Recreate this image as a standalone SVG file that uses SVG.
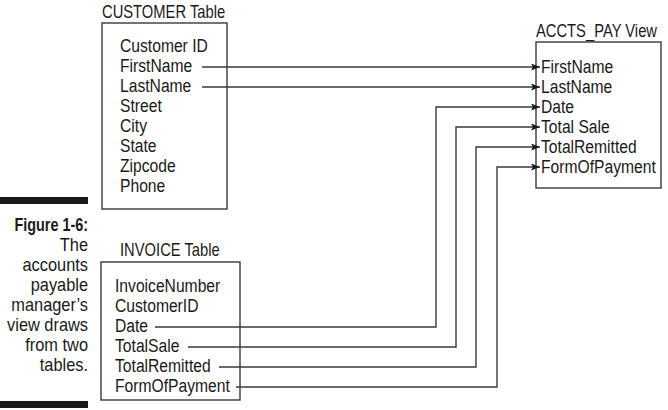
<svg xmlns="http://www.w3.org/2000/svg" width="668" height="410" viewBox="0 0 668 410">
<style>
text{font-family:"Liberation Sans",Arial,sans-serif;fill:#1a1a1a;font-size:18px}
.c{text-anchor:end}
.b{fill:none;stroke:#3a3a3a;stroke-width:1.4}
.l{fill:none;stroke:#3a3a3a;stroke-width:1.4}
</style>
<defs>
<marker id="ah" markerWidth="9" markerHeight="7" refX="9" refY="3.5" orient="auto" markerUnits="userSpaceOnUse">
<path d="M0,0 L9,3.5 L0,7 L2,3.5 Z" fill="#1a1a1a"/>
</marker>
</defs>
<rect width="668" height="410" fill="#fff"/>
<g id="caption">
<rect x="0" y="197" width="88" height="7" fill="#1a1a1a"/>
<g transform="translate(88,0) scale(0.8,1)">
<text class="c" x="0" y="231" font-weight="bold">Figure 1-6:</text>
</g>
<g transform="translate(88,0) scale(0.91,1)">
<text class="c" x="0" y="251">The</text>
<text class="c" x="0" y="271">accounts</text>
<text class="c" x="0" y="291">payable</text>
<text class="c" x="0" y="311">manager’s</text>
<text class="c" x="0" y="331">view draws</text>
<text class="c" x="0" y="351">from two</text>
<text class="c" x="0" y="371">tables.</text>
</g>
<rect x="0" y="401" width="88" height="7" fill="#1a1a1a"/>
</g>
<g id="customer">
<text transform="translate(102,18) scale(0.82,1)" x="0" y="0">CUSTOMER Table</text>
<rect class="b" x="102" y="23" width="125" height="186"/>
<g transform="translate(120,0) scale(0.87,1)">
<text x="0" y="52">Customer ID</text>
<text x="0" y="72">FirstName</text>
<text x="0" y="92">LastName</text>
<text x="0" y="112">Street</text>
<text x="0" y="132">City</text>
<text x="0" y="152">State</text>
<text x="0" y="172">Zipcode</text>
<text x="0" y="192">Phone</text>
</g>
</g>
<g id="invoice">
<text transform="translate(120,256) scale(0.82,1)" x="0" y="0">INVOICE Table</text>
<rect class="b" x="101" y="262" width="139" height="138"/>
<g transform="translate(115,0) scale(0.87,1)">
<text x="0" y="292">InvoiceNumber</text>
<text x="0" y="312">CustomerID</text>
<text x="0" y="332">Date</text>
<text x="0" y="352">TotalSale</text>
<text x="0" y="372">TotalRemitted</text>
<text x="0" y="392">FormOfPayment</text>
</g>
</g>
<g id="accts_pay">
<text transform="translate(536,37) scale(0.82,1)" x="0" y="0">ACCTS_PAY View</text>
<rect class="b" x="536" y="42" width="125" height="146"/>
<g transform="translate(541,0) scale(0.87,1)">
<text x="0" y="73">FirstName</text>
<text x="0" y="93">LastName</text>
<text x="0" y="113">Date</text>
<text x="0" y="133">Total Sale</text>
<text x="0" y="153">TotalRemitted</text>
<text x="0" y="173">FormOfPayment</text>
</g>
</g>
<g id="connectors">
<path class="l" d="M202,67 H540" marker-end="url(#ah)"/>
<path class="l" d="M202,87 H540" marker-end="url(#ah)"/>
<path class="l" d="M155,327 H436 V107 H540" marker-end="url(#ah)"/>
<path class="l" d="M188,347 H456 V127 H540" marker-end="url(#ah)"/>
<path class="l" d="M219,367 H476 V147 H540" marker-end="url(#ah)"/>
<path class="l" d="M236,387 H497 V167 H540" marker-end="url(#ah)"/>
</g>
</svg>
